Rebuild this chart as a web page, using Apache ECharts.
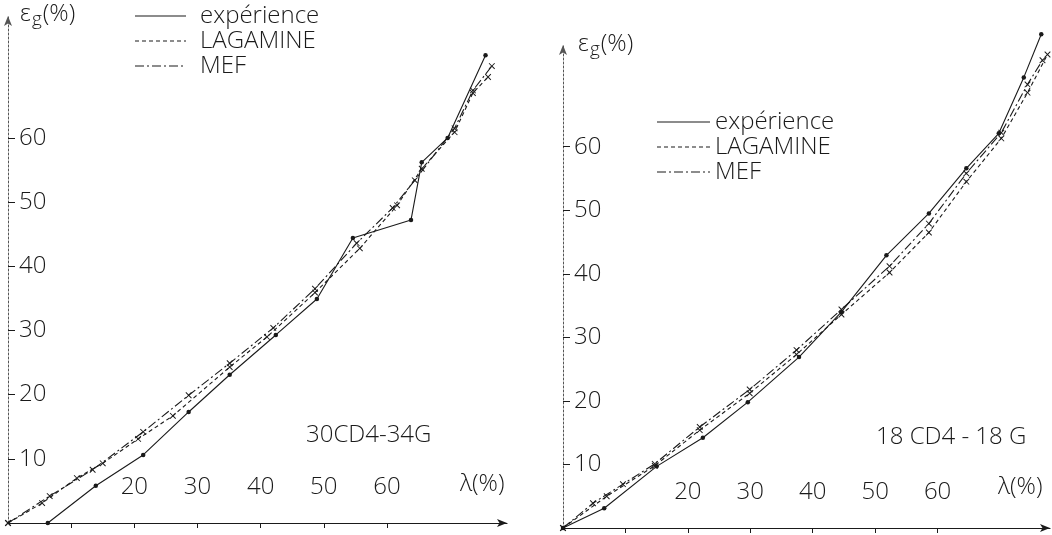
<!DOCTYPE html>
<html>
<head>
<meta charset="utf-8">
<script src="https://cdn.jsdelivr.net/npm/echarts@6/dist/echarts.min.js"></script>
<style>
  html, body { margin: 0; padding: 0; background: #fff; }
  #chart { width: 1052px; height: 535px; }
</style>
</head>
<body>
<div id="chart"></div>
<script>
// Tick positions (both panels share the same scales)
const lambdaTicks = [10, 20, 30, 40, 50, 60];
const lambdaLabels = [20, 30, 40, 50, 60];
const epsTicks = [10, 20, 30, 40, 50, 60];

// Panel 1 : 30CD4-34G   [lambda (%), eps_g (%)]
const exp30 = [[6.3, 0], [13.9, 5.8], [21.4, 10.6], [28.6, 17.3], [35.1, 23.1], [42.4, 29.3],
  [48.9, 34.9], [54.6, 44.4], [63.8, 47.2], [65.5, 56.2], [69.6, 60.0], [75.6, 72.9]];
const lag30 = [[0, 0], [5.4, 3.1], [10.9, 7.0], [15.0, 9.3], [20.6, 13.1], [26.1, 16.7],
  [35.1, 24.3], [41.0, 29.0], [48.6, 35.9], [55.7, 42.8], [61.6, 49.5], [65.5, 55.2],
  [70.7, 60.9], [73.6, 67.0], [76.0, 69.5]];
const mef30 = [[0, 0], [6.6, 4.2], [13.4, 8.3], [21.4, 14.2], [28.6, 19.9], [35.1, 24.9],
  [42.0, 30.4], [48.6, 36.5], [55.2, 43.6], [60.9, 49.1], [64.4, 53.4], [70.7, 61.5],
  [73.6, 67.4], [76.6, 71.2]];

// Panel 2 : 18CD4-18G
const exp18 = [[0, 0], [6.6, 3.1], [15.0, 9.7], [22.4, 14.2], [29.6, 19.8], [37.8, 26.9],
  [44.6, 34.0], [51.8, 42.9], [58.6, 49.5], [64.6, 56.6], [69.8, 62.1], [73.8, 70.9], [76.6, 77.7]];
const lag18 = [[0, 0], [7.0, 5.0], [14.7, 9.8], [21.9, 15.4], [29.9, 21.2], [37.4, 27.3],
  [44.6, 33.6], [52.3, 40.2], [58.6, 46.5], [64.6, 54.5], [70.2, 61.3], [74.4, 68.5], [77.6, 74.5]];
const mef18 = [[0, 0], [4.8, 3.9], [9.6, 6.9], [14.7, 10.1], [21.9, 15.9], [29.9, 21.8],
  [37.4, 28.0], [44.6, 34.4], [52.3, 41.2], [58.6, 47.9], [64.6, 55.8], [70.2, 62.2],
  [74.4, 69.8], [76.8, 73.6]];

const seriesNames = ['expérience', 'LAGAMINE', 'MEF'];
const panelNames = ['30CD4-34G', '18 CD4 - 18 G'];

const INK = '#1a1a1a';
const FONT = '"Open Sans", Roboto, "Liberation Sans", sans-serif';
const FS = 24;
const crossSymbol = 'path://M-0.6,-5 L0.6,-5 L0.6,-0.6 L5,-0.6 L5,0.6 L0.6,0.6 L0.6,5 L-0.6,5 L-0.6,0.6 L-5,0.6 L-5,-0.6 L-0.6,-0.6 Z';

const dashLag = [4, 3];
const dashMef = [9, 3, 2, 3];

function xAxisFor(idx, max) {
  return {
    type: 'value', gridIndex: idx, min: 0, max: max,
    splitLine: { show: false },
    axisLine: { show: true, symbol: ['none', 'arrow'], symbolSize: [6, 10],
      lineStyle: { color: INK, width: 1.2 } },
    axisTick: { show: true, inside: false, length: 5, customValues: lambdaTicks,
      lineStyle: { color: INK, width: 1 } },
    axisLabel: { show: true, inside: true, margin: 24, customValues: lambdaLabels,
      color: INK, fontSize: FS, fontFamily: FONT, fontWeight: 300 }
  };
}
function yAxisFor(idx, max) {
  return {
    type: 'value', gridIndex: idx, min: 0, max: max,
    splitLine: { show: false },
    axisLine: { show: true, symbol: ['none', 'arrow'], symbolSize: [6, 10],
      lineStyle: { color: '#555', width: 1, type: [2, 2] } },
    axisTick: { show: true, inside: true, length: 7, customValues: epsTicks,
      lineStyle: { color: INK, width: 1 } },
    axisLabel: { show: true, inside: true, margin: 11, customValues: epsTicks,
      color: INK, fontSize: FS, fontFamily: FONT, fontWeight: 300 }
  };
}

function lineSeries(name, data, idx, kind) {
  const s = {
    name: name, type: 'line', xAxisIndex: idx, yAxisIndex: idx, data: data,
    clip: false, animation: false, smooth: false,
    lineStyle: { color: INK, width: 1.1 },
    itemStyle: { color: INK }
  };
  if (kind === 'exp') {
    s.symbol = 'circle'; s.symbolSize = 4.5;
  } else if (kind === 'lag') {
    s.symbol = crossSymbol; s.symbolSize = 8; s.symbolRotate = 45;
    s.lineStyle.type = dashLag;
  } else {
    s.symbol = crossSymbol; s.symbolSize = 8; s.symbolRotate = 45;
    s.lineStyle.type = dashMef;
  }
  return s;
}

// Legend block: three line samples with their names
function legendBlock(x0, x1, tx, ys) {
  const styles = [null, dashLag, dashMef];
  const out = [];
  ys.forEach((y, i) => {
    out.push({ type: 'line', shape: { x1: x0, y1: y, x2: x1, y2: y },
      style: { stroke: INK, lineWidth: 1.2, lineDash: styles[i] } });
    out.push({ type: 'text', x: tx, y: y, style: { text: seriesNames[i], fill: INK,
      font: '300 ' + FS + 'px ' + FONT, verticalAlign: 'middle', textAlign: 'left' } });
  });
  return out;
}

function epsLabel(x, y) {
  return { type: 'text', x: x, y: y, style: {
    text: '{a|ε}{b|g}{a|(%)}', fill: INK, verticalAlign: 'middle',
    rich: { a: { fontSize: FS, fontFamily: FONT, fontWeight: 300, fill: INK },
            b: { fontSize: 19, fontFamily: FONT, fontWeight: 300, fill: INK, padding: [12, 1, 0, 1] } } } };
}
function plainText(str, x, y) {
  return { type: 'text', x: x, y: y, style: { text: str, fill: INK,
    font: '300 ' + FS + 'px ' + FONT, verticalAlign: 'middle', textAlign: 'left' } };
}

const chart = echarts.init(document.getElementById('chart'), null, { renderer: 'canvas' });
chart.setOption({
  backgroundColor: '#fff',
  animation: false,
  grid: [
    { left: 8, top: 16, width: 499, height: 507 },
    { left: 563, top: 45, width: 487, height: 483 }
  ],
  xAxis: [xAxisFor(0, 79), xAxisFor(1, 78)],
  yAxis: [yAxisFor(0, 79), yAxisFor(1, 76)],
  series: [
    lineSeries(seriesNames[0], exp30, 0, 'exp'),
    lineSeries(seriesNames[1], lag30, 0, 'lag'),
    lineSeries(seriesNames[2], mef30, 0, 'mef'),
    lineSeries(seriesNames[0], exp18, 1, 'exp'),
    lineSeries(seriesNames[1], lag18, 1, 'lag'),
    lineSeries(seriesNames[2], mef18, 1, 'mef')
  ],
  graphic: [].concat(
    legendBlock(135, 186, 200, [16, 41, 66]),
    legendBlock(657, 710, 715, [122, 147, 172]),
    [
      epsLabel(20, 14),
      epsLabel(578, 44),
      plainText('λ(%)', 460, 484),
      plainText('λ(%)', 998, 487),
      plainText(panelNames[0], 306, 435),
      plainText(panelNames[1], 876, 437)
    ]
  )
});
</script>
</body>
</html>
